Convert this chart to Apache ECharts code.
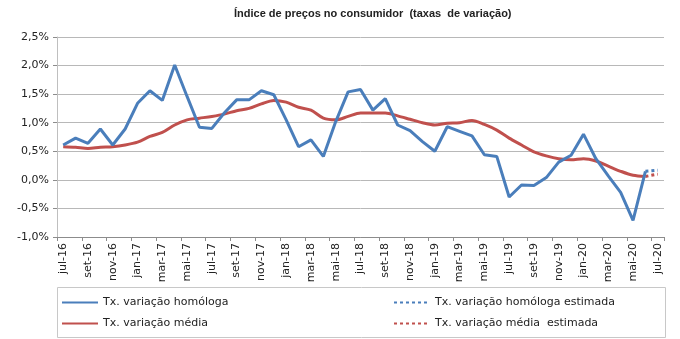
<!DOCTYPE html>
<html>
<head>
<meta charset="utf-8">
<script src="https://cdn.jsdelivr.net/npm/echarts@6/dist/echarts.min.js"></script>
<style>
  html, body { margin: 0; padding: 0; background: #ffffff; }
  #chart { width: 680px; height: 339px; }
</style>
</head>
<body>
<div id="chart"></div>
<script>
// Monthly categories, jul-16 .. jul-20
const months = [
  'jul-16','ago-16','set-16','out-16','nov-16','dez-16',
  'jan-17','fev-17','mar-17','abr-17','mai-17','jun-17',
  'jul-17','ago-17','set-17','out-17','nov-17','dez-17',
  'jan-18','fev-18','mar-18','abr-18','mai-18','jun-18',
  'jul-18','ago-18','set-18','out-18','nov-18','dez-18',
  'jan-19','fev-19','mar-19','abr-19','mai-19','jun-19',
  'jul-19','ago-19','set-19','out-19','nov-19','dez-19',
  'jan-20','fev-20','mar-20','abr-20','mai-20','jun-20',
  'jul-20'
];

// Year-on-year rate (%), observed through jun-20
const homologa = [
  0.61, 0.73, 0.64, 0.89, 0.61, 0.89,
  1.34, 1.56, 1.39, 2.01, 1.46, 0.92,
  0.90, 1.17, 1.40, 1.40, 1.56, 1.49,
  1.05, 0.58, 0.70, 0.41, 1.02, 1.54,
  1.58, 1.22, 1.42, 0.96, 0.86, 0.67,
  0.50, 0.93, 0.85, 0.77, 0.44, 0.41,
  -0.30, -0.09, -0.10, 0.04, 0.31, 0.43,
  0.80, 0.37, 0.07, -0.22, -0.71, 0.15,
  null
];

// Average rate (%), observed through jun-20
const media = [
  0.58, 0.57, 0.55, 0.57, 0.58, 0.61,
  0.66, 0.76, 0.83, 0.96, 1.05, 1.08,
  1.11, 1.15, 1.21, 1.25, 1.33, 1.39,
  1.36, 1.27, 1.22, 1.08, 1.05, 1.11,
  1.17, 1.17, 1.17, 1.12, 1.06, 1.00,
  0.96, 0.99, 1.00, 1.04, 0.97, 0.87,
  0.73, 0.61, 0.49, 0.42, 0.37, 0.35,
  0.37, 0.33, 0.24, 0.15, 0.08, 0.06,
  null
];

// Estimated values: last observed month and jul-20 flash estimate
const estIndex = [47, 48];
const homologaEstVals = [0.15, 0.17];
const mediaEstVals = [0.06, 0.10];

const yTicks = [-1.0, -0.5, 0.0, 0.5, 1.0, 1.5, 2.0, 2.5];

function sparse(idx, vals) {
  const out = months.map(() => null);
  idx.forEach((i, k) => { out[i] = vals[k]; });
  return out;
}

const BLUE = '#4A7EBB';
const RED = '#C0504D';
const FONT = 'DejaVu Sans';
const TITLE_FONT = '"Liberation Sans", sans-serif';
const TXT = '#222222';

const names = {
  hom: 'Tx. variação homóloga',
  homEst: 'Tx. variação homóloga estimada',
  med: 'Tx. variação média',
  medEst: 'Tx. variação média  estimada'
};

function legendAt(name, left, top) {
  return {
    data: [name], left: left, top: top, padding: 0,
    itemWidth: 36, itemHeight: 6, itemGap: 0,
    itemStyle: { opacity: 0 },
    textStyle: { fontFamily: FONT, fontSize: 11, color: TXT },
    selectedMode: false
  };
}

const chart = echarts.init(document.getElementById('chart'), null, { renderer: 'canvas' });
chart.setOption({
  animation: false,
  backgroundColor: '#ffffff',
  title: {
    text: 'Índice de preços no consumidor  (taxas  de variação)',
    left: 229, top: 3,
    textStyle: { fontFamily: TITLE_FONT, fontSize: 11, fontWeight: 'bold', color: TXT }
  },
  grid: { left: 57, right: 16, top: 37, bottom: 102, containLabel: false },
  legend: [
    legendAt(names.hom, 61, 297),
    legendAt(names.med, 61, 318),
    legendAt(names.homEst, 393, 297),
    legendAt(names.medEst, 393, 318)
  ],
  graphic: [{
    type: 'rect', left: 55, top: 285,
    shape: { width: 608, height: 50 },
    style: { fill: 'none', stroke: '#c8c8c8', lineWidth: 1 },
    silent: true
  }],
  xAxis: [{
    type: 'category', data: months, boundaryGap: true,
    axisLine: { show: false },
    axisTick: { show: false },
    axisLabel: {
      interval: 1, rotate: 90, margin: 6,
      fontFamily: FONT, fontSize: 11, color: TXT
    },
    splitLine: { show: false }
  }, {
    // zero line carrying the month ticks
    type: 'category', data: months, boundaryGap: true, position: 'bottom',
    axisLine: { show: true, onZero: true, lineStyle: { color: '#8c8c8c', width: 1 } },
    axisTick: { show: true, interval: 1, length: 4, lineStyle: { color: '#8c8c8c' } },
    axisLabel: { show: false },
    splitLine: { show: false }
  }],
  yAxis: {
    type: 'value', min: yTicks[0], max: yTicks[yTicks.length - 1], interval: 0.5,
    axisLine: { show: true, lineStyle: { color: '#bfbfbf' } },
    axisTick: { show: true, length: 4, lineStyle: { color: '#8c8c8c' } },
    axisLabel: {
      margin: 8, fontFamily: FONT, fontSize: 11, color: TXT,
      formatter: v => v.toFixed(1).replace('.', ',') + '%'
    },
    splitLine: { show: true, lineStyle: { color: '#b8b8b8', width: 1 } }
  },
  series: [
    {
      name: names.hom, type: 'line', data: homologa, xAxisIndex: 0,
      symbol: 'none', lineStyle: { color: BLUE, width: 3 }, itemStyle: { color: BLUE },
      z: 4
    },
    {
      name: names.med, type: 'line', data: media, xAxisIndex: 0, smooth: 0.3,
      symbol: 'none', lineStyle: { color: RED, width: 3 }, itemStyle: { color: RED },
      z: 3
    },
    {
      name: names.homEst, type: 'line', data: sparse(estIndex, homologaEstVals), xAxisIndex: 0,
      symbol: 'none', lineStyle: { color: BLUE, width: 3, type: [3, 3] }, itemStyle: { color: BLUE },
      z: 4
    },
    {
      name: names.medEst, type: 'line', data: sparse(estIndex, mediaEstVals), xAxisIndex: 0,
      symbol: 'none', lineStyle: { color: RED, width: 3, type: [3, 3] }, itemStyle: { color: RED },
      z: 3
    }
  ]
});
</script>
</body>
</html>
